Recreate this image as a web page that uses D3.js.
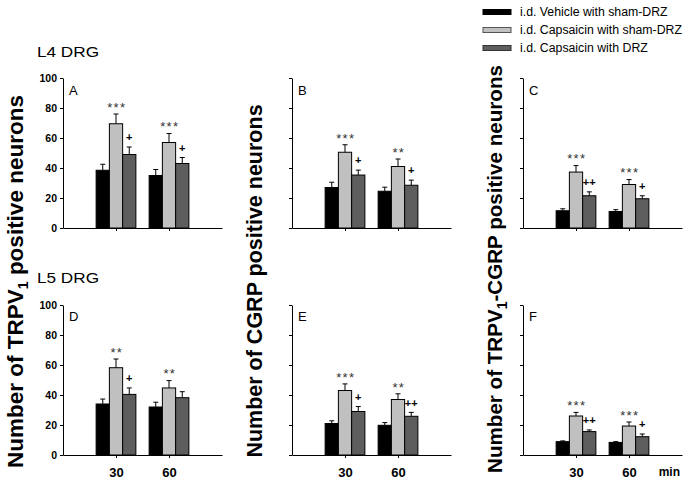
<!DOCTYPE html>
<html>
<head>
<meta charset="utf-8">
<script src="https://cdn.jsdelivr.net/npm/d3@7"></script>
<style>
  html, body { margin: 0; padding: 0; background: #fff; }
  svg { display: block; font-family: "Liberation Sans", Arial, sans-serif; }
</style>
</head>
<body>
<div id="chart"></div>
<script>
// ---------- DATA ----------
const times = [30, 60];
const seriesNames = ["i.d. Vehicle with sham-DRZ", "i.d. Capsaicin with sham-DRZ", "i.d. Capsaicin with DRZ"];
const seriesColors = ["#000000", "#c0c0c0", "#5e5e5e"];
const yTickValues = [0, 20, 40, 60, 80, 100];
const panelLetters = ["A", "B", "C", "D", "E", "F"];
const rowLabels = ["L4 DRG", "L5 DRG"];
const xUnitLabel = "min";

// means[series][time]
const meansA = [[38.5, 35], [69.5, 57], [49, 43]];
const seA    = [[4, 4], [6.5, 6], [5, 4]];
const meansB = [[27, 24.5], [50.5, 41], [35.3, 28.5]];
const seB    = [[3.5, 2.7], [5, 5], [3.3, 3.4]];
const meansC = [[11.5, 11], [37.3, 29], [21.5, 19.5]];
const seC    = [[1.3, 1.2], [4.3, 3.3], [2.6, 2]];
const meansD = [[34, 32], [58.2, 44.7], [40.4, 38.2]];
const seD    = [[3.3, 3.2], [5.8, 4.9], [4.3, 4]];
const meansE = [[21, 19.8], [43, 37], [29, 25.8]];
const seE    = [[1.8, 1.8], [4.4, 3.8], [3.3, 2.6]];
const meansF = [[8.9, 8.4], [26, 19.3], [15.6, 12.2]];
const seF    = [[0.5, 0.5], [2.4, 2.7], [1.1, 1.8]];

// significance marks [time]
const starsA = ["***", "***"], plusA = ["+", "+"];
const starsB = ["***", "**"],  plusB = ["+", "+"];
const starsC = ["***", "***"], plusC = ["++", "+"];
const starsD = ["**", "**"],   plusD = ["+", ""];
const starsE = ["***", "**"],  plusE = ["+", "++"];
const starsF = ["***", "***"], plusF = ["++", "+"];

const yTitles = [
  ["Number of TRPV", "1", " positive neurons"],
  ["Number of CGRP positive neurons"],
  ["Number of TRPV", "1", "-CGRP positive neurons"]
];

// ---------- LAYOUT ----------
const W = 692, H = 479;
const svg = d3.select("#chart").append("svg").attr("width", W).attr("height", H);

const colX = [63, 292, 523];
const rowBase = [228, 455];
const plotW = 159, plotH = 150;
const barUnits = 7.5;

const panels = [
  {m: meansA, s: seA, st: starsA, pl: plusA},
  {m: meansB, s: seB, st: starsB, pl: plusB},
  {m: meansC, s: seC, st: starsC, pl: plusC},
  {m: meansD, s: seD, st: starsD, pl: plusD},
  {m: meansE, s: seE, st: starsE, pl: plusE},
  {m: meansF, s: seF, st: starsF, pl: plusF}
];

panels.forEach((p, idx) => {
  const col = idx % 3, row = Math.floor(idx / 3);
  const x0 = colX[col], yb = rowBase[row];
  const x = d3.scaleLinear().domain([0, 90]).range([x0, x0 + plotW]);
  const y = d3.scaleLinear().domain([0, 100]).range([yb, yb - plotH]);
  const g = svg.append("g");

  // y axis
  const yAx = d3.axisLeft(y).tickValues(yTickValues).tickSize(3).tickSizeOuter(0)
    .tickFormat(col === 0 ? d3.format("d") : () => "");
  const ya = g.append("g").attr("transform", `translate(${x0},0)`).call(yAx);
  ya.select(".domain").attr("stroke", "#000");
  ya.selectAll(".tick line").attr("stroke", "#000");
  ya.selectAll(".tick text").attr("font-size", "10.5px").attr("font-weight", "bold")
    .attr("fill", "#000").attr("x", -6).attr("dy", "0.36em");

  // x axis
  const xAx = d3.axisBottom(x).tickValues(times).tickSize(3).tickSizeOuter(0)
    .tickFormat(row === 1 ? d3.format("d") : () => "");
  const xa = g.append("g").attr("transform", `translate(0,${yb})`).call(xAx);
  xa.select(".domain").attr("stroke", "#000");
  xa.selectAll(".tick line").attr("stroke", "#000");
  xa.selectAll(".tick text").attr("font-size", "13px").attr("font-weight", "bold")
    .attr("fill", "#000").attr("y", 13).attr("dy", "0.71em");

  const bw = x(barUnits) - x(0);

  p.m.forEach((vals, si) => {
    vals.forEach((v, ti) => {
      const t = times[ti];
      const xl = x(t + (si - 1) * barUnits - barUnits / 2);
      const xc = xl + bw / 2;
      const top = y(v + p.s[si][ti]);
      // error bar
      g.append("line").attr("x1", xc).attr("x2", xc).attr("y1", y(v)).attr("y2", top)
        .attr("stroke", "#000").attr("stroke-width", 1);
      g.append("line").attr("x1", xc - 2.5).attr("x2", xc + 2.5).attr("y1", top).attr("y2", top)
        .attr("stroke", "#000").attr("stroke-width", 1);
      // bar
      g.append("rect").attr("x", xl).attr("y", y(v)).attr("width", bw).attr("height", y(0) - y(v))
        .attr("fill", seriesColors[si]).attr("stroke", "#000").attr("stroke-width", 1);
      // annotations
      if (si === 1 && p.st[ti]) {
        g.append("text").attr("x", xc + 0.8).attr("y", top - 2.2).attr("text-anchor", "middle")
          .attr("font-size", "13px").attr("letter-spacing", "1.3px").attr("fill", "#333")
          .text(p.st[ti]);
      }
      if (si === 2 && p.pl[ti]) {
        g.append("text").attr("x", xc).attr("y", top - 5.7).attr("text-anchor", "middle")
          .attr("font-size", "11px").attr("font-weight", "bold").attr("fill", "#000")
          .text(p.pl[ti]);
      }
    });
  });

  // panel letter
  g.append("text").attr("x", x0 + 6).attr("y", yb - plotH + (row === 0 ? 17 : 16))
    .attr("font-size", "13px").attr("fill", "#000").text(panelLetters[idx]);

  if (idx === 5) {
    g.append("text").attr("x", x0 + plotW - 2).attr("y", yb + 21)
      .attr("text-anchor", "end").attr("font-size", "12px").attr("font-weight", "bold")
      .text(xUnitLabel);
  }
});

// row labels
rowLabels.forEach((lab, r) => {
  svg.append("text").attr("x", 37).attr("y", r === 0 ? 57 : 283)
    .attr("font-size", "15px").attr("textLength", 62).attr("lengthAdjust", "spacingAndGlyphs")
    .text(lab);
});

// y-axis titles (rotated)
const titlePos = [{x: 23, y: 281.5, f: 22.5}, {x: 262, y: 281, f: 21.5}, {x: 502, y: 269, f: 20.6}];
yTitles.forEach((parts, i) => {
  const t = svg.append("text")
    .attr("transform", `translate(${titlePos[i].x},${titlePos[i].y}) rotate(-90)`)
    .attr("text-anchor", "middle").attr("font-size", titlePos[i].f + "px").attr("font-weight", "bold")
    .attr("fill", "#000");
  parts.forEach((s, k) => {
    const ts = t.append("tspan").text(s);
    if (parts.length === 3 && k === 1) ts.attr("font-size", "14px").attr("dy", "5");
    if (parts.length === 3 && k === 2) ts.attr("dy", "-5");
  });
});

// legend
const lg = svg.append("g");
const legendStroke = ["#000", "#555", "#333"];
seriesNames.forEach((n, i) => {
  const yy = 12 + i * 18;
  lg.append("rect").attr("x", 483).attr("y", yy - 2.5).attr("width", 28).attr("height", 5)
    .attr("fill", seriesColors[i]).attr("stroke", legendStroke[i]).attr("stroke-width", 1);
  lg.append("text").attr("x", 520).attr("y", yy + 4.3).attr("font-size", "12.3px").attr("fill", "#000")
    .text(n);
});
</script>
</body>
</html>
